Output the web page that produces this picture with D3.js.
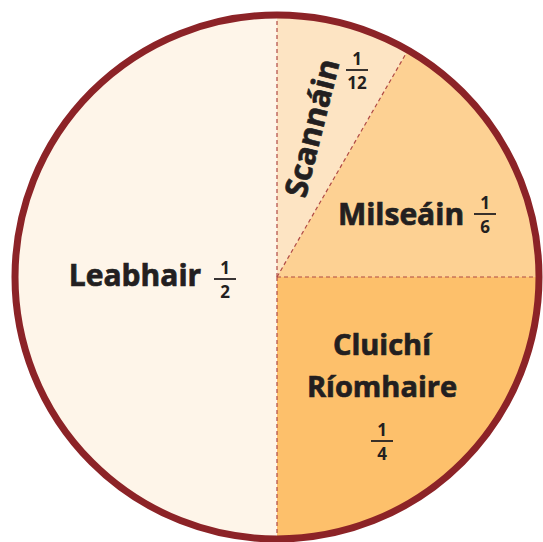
<!DOCTYPE html>
<html>
<head>
<meta charset="utf-8">
<script src="https://cdn.jsdelivr.net/npm/d3@7"></script>
<style>
  html, body { margin: 0; padding: 0; background: #fff; }
  text { font-family: "Open Sans", "DejaVu Sans", sans-serif; font-weight: 700; fill: #231f20; }
  text.name { stroke: #231f20; stroke-width: 0.7px; }
</style>
</head>
<body>
<div id="chart"></div>
<script>
// Pie of how the money is spent, clockwise from 12 o'clock

var categories = ["Scannáin", "Milseáin", "Cluichí Ríomhaire", "Leabhair"];
var numerators = [1, 1, 1, 1];
var denominators = [12, 6, 4, 2];
var fills = ["#fde4c3", "#fdd193", "#fdc06b", "#fef5e9"];

var width = 543, height = 542;
var cx = 277, cy = 277, radius = 262;

var slices = categories.map(function(c, i) {
    return { name: c, num: numerators[i], den: denominators[i], value: numerators[i] / denominators[i], fill: fills[i] };
});

var svg = d3.select("#chart").append("svg")
    .attr("width", width)
    .attr("height", height);

var g = svg.append("g")
    .attr("transform", "translate(" + cx + "," + cy + ")");

var pie = d3.pie()
    .sort(null)
    .value(function(d) { return d.value; });

var arc = d3.arc().innerRadius(0).outerRadius(radius);

var arcs = pie(slices);

g.selectAll(".slice")
  .data(arcs)
  .enter().append("path")
    .attr("class", "slice")
    .attr("d", arc)
    .style("fill", function(d) { return d.data.fill; })
    .style("stroke", "none");

// dashed borders between slices (Leabhair is one piece so no line at 9 o'clock)
var borders = [];
arcs.forEach(function(d) {
    if (borders.indexOf(d.startAngle) === -1) borders.push(d.startAngle);
    if (borders.indexOf(d.endAngle) === -1) borders.push(d.endAngle);
});
borders = borders.filter(function(a) { return a < 2 * Math.PI - 1e-6; });

g.selectAll(".border")
  .data(borders)
  .enter().append("line")
    .attr("class", "border")
    .attr("x1", 0).attr("y1", 0)
    .attr("x2", function(a) { return radius * Math.sin(a); })
    .attr("y2", function(a) { return -radius * Math.cos(a); })
    .style("stroke", "#b04a45")
    .style("stroke-width", 1.2)
    .style("stroke-dasharray", "4,3");

// outer ring
g.append("circle")
    .attr("r", radius)
    .style("fill", "none")
    .style("stroke", "#8c2327")
    .style("stroke-width", 7);

// label placement for each slice (name position, fraction position)
var layout = {
    "Scannáin":          { x: 35, y: -149, rot: -76, size: 31, frac: [80, -207] },
    "Milseáin":          { x: 124, y: -52, rot: 0, size: 30, frac: [208, -63] },
    "Cluichí Ríomhaire": { x: 105, y: 78, rot: 0, size: 29, frac: [105, 164], lineGap: 42 },
    "Leabhair":          { x: -142, y: 9, rot: 0, size: 30, frac: [-52, 2] }
};

function drawFraction(sel, x, y, num, den) {
    var fg = sel.append("g").attr("transform", "translate(" + x + "," + y + ")");
    fg.append("text").attr("text-anchor", "middle").attr("y", -5)
        .style("font-size", "17px").text(num);
    fg.append("line").attr("x1", -11).attr("x2", 11).attr("y1", 0).attr("y2", 0)
        .style("stroke", "#231f20").style("stroke-width", 1.8);
    fg.append("text").attr("text-anchor", "middle").attr("y", 19)
        .style("font-size", "17px").text(den);
}

arcs.forEach(function(d) {
    var L = layout[d.data.name];
    var lg = g.append("g").attr("class", "label");
    if (L.rot !== 0) {
        lg.append("text").attr("class", "name")
            .attr("transform", "translate(" + L.x + "," + L.y + ") rotate(" + L.rot + ")")
            .attr("text-anchor", "middle").attr("dy", "0.35em")
            .style("font-size", L.size + "px")
            .text(d.data.name);
    } else if (L.lineGap) {
        d.data.name.split(" ").forEach(function(w, i) {
            lg.append("text").attr("class", "name")
                .attr("x", L.x).attr("y", L.y + i * L.lineGap)
                .attr("text-anchor", "middle").style("font-size", L.size + "px").text(w);
        });
    } else {
        lg.append("text").attr("class", "name")
            .attr("x", L.x).attr("y", L.y)
            .attr("text-anchor", "middle").style("font-size", L.size + "px").text(d.data.name);
    }
    drawFraction(lg, L.frac[0], L.frac[1], d.data.num, d.data.den);
});
</script>
</body>
</html>
